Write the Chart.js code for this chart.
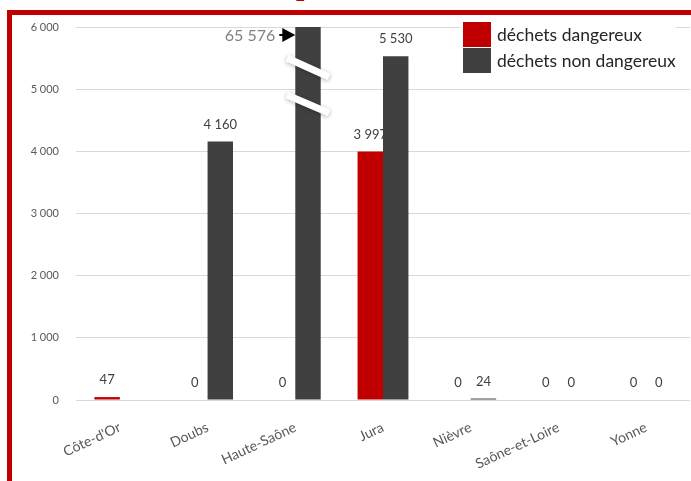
<!DOCTYPE html>
<html>
<head>
<meta charset="utf-8">
<script src="https://cdn.jsdelivr.net/npm/chart.js@4"></script>
<style>
  body { margin: 0; background: #fff; overflow: hidden; }
  #wrap { position: relative; width: 691px; height: 481px; }
  #frame { position: absolute; left: 7px; top: 10px; width: 800px; height: 600px;
           border-left: 5px solid #C00000; border-top: 5px solid #C00000; }
  #titleBit { position: absolute; left: 296px; top: -32px; font: bold 30px "Liberation Serif"; color: #C00000; }
  #legend { position: absolute; left: 460px; top: 21px; background: #fff; padding-left: 3px;
            font: 17.5px Lato, "Open Sans", sans-serif; color: #262626; }
  .item { display: flex; align-items: center; height: 26px; }
  .box { width: 28px; height: 25px; margin-right: 6px; }
  canvas { position: absolute; left: 0; top: 0; }
</style>
</head>
<body>
<div id="wrap">
  <canvas id="chart" width="691" height="481"></canvas>
  <div id="frame"></div>
  <div id="titleBit">p</div>
  <div id="legend"></div>
</div>
<script>
const categories = ['Côte-d\'Or', 'Doubs', 'Haute-Saône', 'Jura', 'Nièvre', 'Saône-et-Loire', 'Yonne'];
const dangereux = [47, 0, 0, 3997, 0, 0, 0];
const nonDangereux = [null, 4160, 65576, 5530, 24, 0, 0];
const seriesNames = ['déchets dangereux', 'déchets non dangereux'];
const seriesColors = ['#C00000', '#404040'];
const yMax = 6000;

function fmt(v) {
  return String(v).replace(/\B(?=(\d{3})+(?!\d))/g, ' ');
}

// legend in html, sits over the plot like in the original
const legend = document.getElementById('legend');
seriesNames.forEach((n, i) => {
  const row = document.createElement('div');
  row.className = 'item';
  row.innerHTML = `<div class="box" style="background:${seriesColors[i]}"></div><span>${n}</span>`;
  legend.appendChild(row);
});

const labelsPlugin = {
  id: 'valueLabels',
  afterDatasetsDraw(chart) {
    const ctx = chart.ctx;
    const top = chart.chartArea.top;
    ctx.save();
    chart.data.datasets.forEach((ds, di) => {
      const meta = chart.getDatasetMeta(di);
      meta.data.forEach((bar, i) => {
        const v = ds.data[i];
        if (v === null) return;
        if (v > yMax) {
          // broken bar: two white slashes, arrow and real value on the left
          ctx.strokeStyle = '#fff';
          ctx.lineWidth = 7;
          ctx.shadowColor = 'rgba(0,0,0,0.3)';
          ctx.shadowBlur = 4;
          ctx.shadowOffsetY = 1;
          [[31, 50], [68, 86]].forEach(([a, b]) => {
            ctx.beginPath();
            ctx.moveTo(bar.x - 21, top + a);
            ctx.lineTo(bar.x + 21, top + b);
            ctx.stroke();
          });
          ctx.shadowBlur = 0;
          ctx.shadowOffsetY = 0;
          ctx.shadowColor = 'transparent';
          const ay = top + 8;
          const ax = bar.x - bar.width / 2;
          ctx.fillStyle = '#000';
          ctx.strokeStyle = '#000';
          ctx.lineWidth = 2;
          ctx.beginPath();
          ctx.moveTo(ax - 16, ay);
          ctx.lineTo(ax - 8, ay);
          ctx.stroke();
          ctx.beginPath();
          ctx.moveTo(ax - 13, ay - 7);
          ctx.lineTo(ax, ay);
          ctx.lineTo(ax - 13, ay + 7);
          ctx.closePath();
          ctx.fill();
          ctx.font = '16px Lato, sans-serif';
          ctx.fillStyle = '#808080';
          ctx.textAlign = 'right';
          ctx.textBaseline = 'middle';
          ctx.fillText(fmt(v), ax - 20, ay + 1);
          return;
        }
        ctx.font = '13px Lato, sans-serif';
        ctx.fillStyle = '#404040';
        ctx.textAlign = 'center';
        ctx.textBaseline = 'middle';
        ctx.fillText(fmt(v), bar.x, bar.y - 17);
      });
    });
    ctx.restore();
  }
};

new Chart(document.getElementById('chart'), {
  type: 'bar',
  data: {
    labels: categories,
    datasets: [
      { label: seriesNames[0], data: dangereux, backgroundColor: seriesColors[0] },
      { label: seriesNames[1], data: nonDangereux, backgroundColor: seriesColors[1] }
    ]
  },
  options: {
    responsive: false,
    animation: false,
    datasets: { bar: { barPercentage: 1, categoryPercentage: 0.58 } },
    layout: { padding: { top: 27, right: 1, left: 0, bottom: 0 } },
    plugins: { legend: { display: false }, tooltip: { enabled: false } },
    scales: {
      x: {
        grid: { display: false },
        border: { display: false },
        ticks: {
          color: '#595959',
          font: { family: 'Lato', size: 14 },
          minRotation: 25, maxRotation: 25,
          padding: 11
        },
        afterFit: s => { s.height = 81; }
      },
      y: {
        min: 0, max: yMax,
        border: { display: false },
        grid: { color: '#d9d9d9', drawTicks: false },
        ticks: {
          stepSize: 1000,
          color: '#595959',
          font: { family: 'Lato', size: 11 },
          padding: 17,
          callback: v => fmt(v)
        },
        afterFit: s => { s.width = 76; }
      }
    }
  },
  plugins: [labelsPlugin]
});
</script>
</body>
</html>
